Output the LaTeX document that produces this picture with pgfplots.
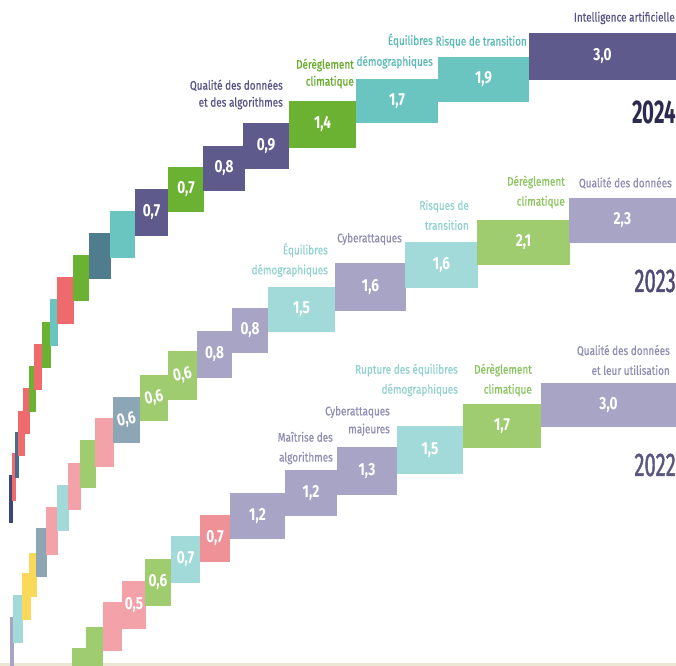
\documentclass[border=0pt]{standalone}
\usepackage{pgfplots}
\pgfplotsset{compat=1.18}
\usepackage{fontspec}
\setmainfont{Fira Sans}
\newfontfamily\lab[FakeStretch=0.8,FakeBold=0.6]{Fira Sans}
\newfontfamily\val[FakeStretch=0.78]{Fira Sans}
\newfontfamily\yr[FakeStretch=0.62]{Fira Sans}
\newfontfamily\yrm[FakeStretch=0.62,FakeBold=1.2]{Fira Sans}
% block colours
\definecolor{P24}{RGB}{95,90,140}
\definecolor{G24}{RGB}{108,178,50}
\definecolor{T24}{RGB}{106,196,192}
\definecolor{S24}{RGB}{80,125,142}
\definecolor{S24b}{RGB}{74,108,140}
\definecolor{R24}{RGB}{238,106,108}
\definecolor{N24}{RGB}{62,70,118}
\definecolor{PL}{RGB}{168,164,198}
\definecolor{TL}{RGB}{162,218,218}
\definecolor{GL}{RGB}{158,204,110}
\definecolor{SL}{RGB}{140,166,182}
\definecolor{PK}{RGB}{242,162,168}
\definecolor{PK2}{RGB}{238,146,152}
\definecolor{YL}{RGB}{250,216,90}
% text colours
\definecolor{tP24}{RGB}{88,84,135}
\definecolor{tT24}{RGB}{90,186,182}
\definecolor{tG24}{RGB}{104,172,46}
\definecolor{tPL}{RGB}{145,142,180}
\definecolor{tTL}{RGB}{145,210,208}
\definecolor{tGL}{RGB}{140,196,96}
\definecolor{y24}{RGB}{45,42,80}
\definecolor{y23}{RGB}{80,76,118}
\definecolor{y22}{RGB}{90,86,128}
% block: x0 x1 ytop ybottom colour
\newcommand{\blk}[5]{\addplot[fill=#5,draw=none] coordinates {(#1,#3) (#2,#3) (#2,#4) (#1,#4)} -- cycle;}
% block with value label
\newcommand{\blkv}[7]{\blk{#1}{#2}{#3}{#4}{#5}
  \node[text=white,inner sep=0pt,rotate=#7,font=\val\bfseries\fontsize{17.5}{18}\selectfont] at (axis cs:{(#1+#2)/2},{(#3+#4)/2}) {#6};}
\newcommand{\cat}[5]{\node[anchor=east,align=right,inner sep=0pt,text=#4,font=\lab\fontsize{12.5}{#5}\selectfont] at (axis cs:#1,#2) {#3};}
\begin{document}
\begin{tikzpicture}
\begin{axis}[at={(0,0)},anchor=south west,width=676bp,height=666bp,scale only axis,
  xmin=0,xmax=676,ymin=0,ymax=666,y dir=reverse,hide axis,clip=true]
\addplot[fill=white,draw=none] coordinates {(0,0) (676,0) (676,666) (0,666)} -- cycle;
\addplot[fill={rgb,255:red,236;green,230;blue,212},draw=none] coordinates {(0,663) (676,663) (676,666) (0,666)} -- cycle;
% ---------------- 2024 ----------------
\blk{9}{13}{475}{523}{N24}
\blk{12}{16}{453}{501}{R24}
\blk{15}{19}{432}{478}{S24b}
\blk{18}{25}{411}{456}{R24}
\blk{23}{30}{388}{434}{R24}
\blk{29}{36}{366}{412}{G24}
\blk{34}{42}{344}{390}{R24}
\blk{42}{51}{322}{368}{G24}
\blk{50}{58}{299}{346}{T24}
\blk{57}{74}{277}{324}{R24}
\blk{73}{89}{255}{301}{G24}
\blk{89}{111}{233}{279}{S24}
\blk{110}{135}{211}{258}{T24}
\blkv{135}{168}{189}{236}{P24}{0,7}{0}
\blkv{168}{204}{167}{212}{G24}{0,7}{0}
\blkv{203}{245}{146}{191}{P24}{0,8}{0}
\blkv{243}{289}{123}{169}{P24}{0,9}{0}
\blkv{289}{356}{101}{148}{G24}{1,4}{0}
\blkv{356}{438}{79}{123}{T24}{1,7}{0}
\blkv{438}{529}{57}{102}{T24}{1,9}{0}
\blkv{529}{676}{33}{80}{P24}{3,0}{0}
% ---------------- 2023 ----------------
\blk{10}{14}{617}{670}{PL}
\blk{13}{23}{595}{643}{TL}
\blk{22}{31}{573}{620}{YL}
\blk{29}{37}{553}{597}{YL}
\blk{36}{47}{528}{577}{SL}
\blk{46}{58}{507}{555}{PK}
\blk{57}{69}{485}{531}{TL}
\blk{68}{81}{463}{510}{PK}
\blk{80}{96}{440}{488}{GL}
\blk{95}{114}{418}{467}{PK}
\blkv{113}{140}{397}{443}{SL}{0,6}{12}
\blkv{140}{168}{375}{421}{GL}{0,6}{12}
\blkv{168}{197}{351}{400}{GL}{0,6}{12}
\blkv{197}{232}{331}{378}{PL}{0,8}{0}
\blkv{232}{268}{308}{353}{PL}{0,8}{0}
\blkv{268}{335}{287}{332}{TL}{1,5}{0}
\blkv{335}{406}{263}{311}{PL}{1,6}{0}
\blkv{405}{478}{242}{288}{TL}{1,6}{0}
\blkv{477}{570}{220}{265}{GL}{2,1}{0}
\blkv{569}{676}{198}{243}{PL}{2,3}{0}
% ---------------- 2022 ----------------
\blk{72}{87}{648}{694}{GL}
\blk{86}{103}{627}{673}{GL}
\blk{103}{122}{602}{651}{PK}
\blkv{122}{146}{581}{629}{PK}{0,5}{0}
\blkv{145}{171}{559}{606}{GL}{0,6}{0}
\blkv{171}{200}{536}{583}{TL}{0,7}{0}
\blkv{200}{230}{515}{562}{PK2}{0,7}{0}
\blkv{230}{285}{493}{539}{PL}{1,2}{0}
\blkv{285}{337}{470}{516}{PL}{1,2}{0}
\blkv{337}{397}{447}{495}{PL}{1,3}{0}
\blkv{397}{463}{426}{474}{TL}{1,5}{0}
\blkv{463}{541}{404}{448}{GL}{1,7}{0}
\blkv{541}{676}{383}{427}{PL}{3,0}{0}
% ---------------- category labels ----------------
\cat{675}{18}{Intelligence artificielle}{tP24}{17}
\cat{527}{42}{Risque de transition}{tT24}{17}
\cat{433}{51}{Équilibres\\démographiques}{tT24}{21}
\cat{354}{73.5}{Dérèglement\\climatique}{tG24}{17}
\cat{283}{94.5}{Qualité des données\\et des algorithmes}{tP24}{17}
\cat{672}{183}{Qualité des données}{tPL}{17}
\cat{565}{192}{Dérèglement\\climatique}{tGL}{20}
\cat{469}{215}{Risques de\\transition}{tTL}{20}
\cat{402}{239}{Cyberattaques}{tPL}{17}
\cat{328}{260}{Équilibres\\démographiques}{tTL}{20}
\cat{670}{360}{Qualité des données\\et leur utilisation}{tPL}{20}
\cat{532}{380}{Dérèglement\\climatique}{tGL}{20}
\cat{458}{380}{Rupture des équilibres\\démographiques}{tTL}{20}
\cat{390}{421}{Cyberattaques\\majeures}{tPL}{18}
\cat{333}{448}{Maîtrise des\\algorithmes}{tPL}{20}
% ---------------- years ----------------
\node[anchor=east,inner sep=0pt,text=y24,font=\yr\bfseries\fontsize{33}{34}\selectfont] at (axis cs:676,112) {2024};
\node[anchor=east,inner sep=0pt,text=y23,font=\yrm\fontsize{33}{34}\selectfont] at (axis cs:676,281) {2023};
\node[anchor=east,inner sep=0pt,text=y22,font=\yrm\fontsize{33}{34}\selectfont] at (axis cs:676,465) {2022};
\end{axis}
\end{tikzpicture}
\end{document}
